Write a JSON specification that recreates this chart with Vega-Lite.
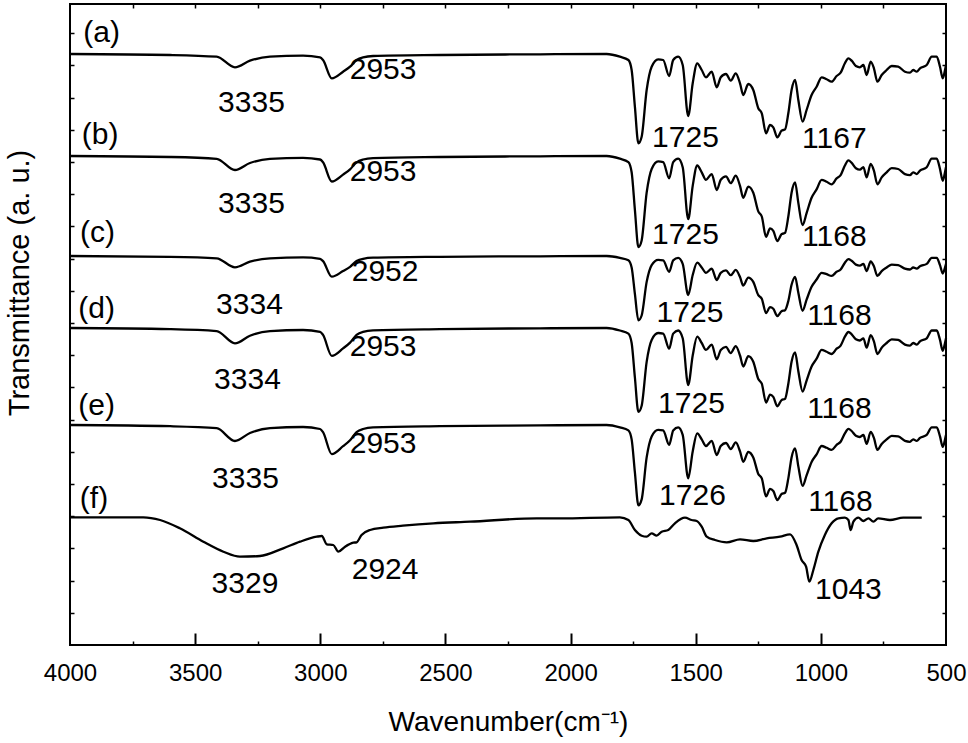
{
"$schema":"https://vega.github.io/schema/vega-lite/v6.json",
"width":876,"height":641,
"autosize":{"type":"none"},
"padding":{"left":70,"top":4,"right":22,"bottom":98},
"background":"white",
"config":{"view":{"stroke":"black","strokeWidth":2},"font":"Liberation Sans"},
"datasets":{
"spectra":[
{"s":"a","w":4000,"t":591},{"s":"a","w":3600,"t":590},{"s":"a","w":3414,"t":588.3},{"s":"a","w":3341,"t":577.7},{"s":"a","w":3281,"t":584.3},{"s":"a","w":3201,"t":588.3},{"s":"a","w":3069,"t":589.3},{"s":"a","w":3001,"t":587.7},{"s":"a","w":2989,"t":585},{"s":"a","w":2954,"t":566.7},{"s":"a","w":2909,"t":573.3},{"s":"a","w":2881,"t":578.3},{"s":"a","w":2855,"t":585},{"s":"a","w":2829,"t":587.7},{"s":"a","w":2789,"t":589},{"s":"a","w":2522,"t":590},{"s":"a","w":2122,"t":590.7},{"s":"a","w":1856,"t":591},{"s":"a","w":1803,"t":588.3},{"s":"a","w":1769,"t":585},{"s":"a","w":1756,"t":575},{"s":"a","w":1743,"t":538.3},{"s":"a","w":1729,"t":501.7},{"s":"a","w":1716,"t":508.3},{"s":"a","w":1696,"t":555},{"s":"a","w":1676,"t":578.3},{"s":"a","w":1650,"t":585.7},{"s":"a","w":1630,"t":585},{"s":"a","w":1606,"t":569},{"s":"a","w":1590,"t":585},{"s":"a","w":1570,"t":588.3},{"s":"a","w":1552,"t":580},{"s":"a","w":1530,"t":529},{"s":"a","w":1512,"t":561.7},{"s":"a","w":1494,"t":581.7},{"s":"a","w":1476,"t":575},{"s":"a","w":1459,"t":567.7},{"s":"a","w":1436,"t":573.3},{"s":"a","w":1416,"t":557.7},{"s":"a","w":1400,"t":567.7},{"s":"a","w":1379,"t":571},{"s":"a","w":1360,"t":564.3},{"s":"a","w":1340,"t":571.7},{"s":"a","w":1323,"t":561.7},{"s":"a","w":1310,"t":550},{"s":"a","w":1290,"t":561},{"s":"a","w":1270,"t":555},{"s":"a","w":1250,"t":536.7},{"s":"a","w":1236,"t":531.7},{"s":"a","w":1219,"t":511.7},{"s":"a","w":1203,"t":520},{"s":"a","w":1190,"t":517.7},{"s":"a","w":1174,"t":507.7},{"s":"a","w":1157,"t":514.3},{"s":"a","w":1143,"t":515.7},{"s":"a","w":1130,"t":531.7},{"s":"a","w":1117,"t":555},{"s":"a","w":1103,"t":565},{"s":"a","w":1090,"t":545},{"s":"a","w":1073,"t":523.3},{"s":"a","w":1057,"t":535},{"s":"a","w":1037,"t":550},{"s":"a","w":1017,"t":558.3},{"s":"a","w":997,"t":567.7},{"s":"a","w":977,"t":565.7},{"s":"a","w":957,"t":563.3},{"s":"a","w":937,"t":569},{"s":"a","w":921,"t":572.3},{"s":"a","w":904,"t":581.7},{"s":"a","w":890,"t":586.7},{"s":"a","w":877,"t":584.3},{"s":"a","w":860,"t":579},{"s":"a","w":844,"t":577.7},{"s":"a","w":830,"t":580},{"s":"a","w":817,"t":570},{"s":"a","w":801,"t":583.3},{"s":"a","w":788,"t":576.7},{"s":"a","w":774,"t":563.3},{"s":"a","w":757,"t":570},{"s":"a","w":737,"t":575},{"s":"a","w":717,"t":579},{"s":"a","w":691,"t":578.3},{"s":"a","w":664,"t":573.3},{"s":"a","w":644,"t":572.3},{"s":"a","w":631,"t":575},{"s":"a","w":617,"t":573.3},{"s":"a","w":604,"t":576.7},{"s":"a","w":577,"t":580},{"s":"a","w":557,"t":588.3},{"s":"a","w":537,"t":588.3},{"s":"a","w":524,"t":578.3},{"s":"a","w":513,"t":566.7},{"s":"a","w":504,"t":575},{"s":"a","w":500,"t":580},
{"s":"b","w":4000,"t":489},{"s":"b","w":3600,"t":488},{"s":"b","w":3414,"t":486.2},{"s":"b","w":3341,"t":475},{"s":"b","w":3281,"t":482},{"s":"b","w":3201,"t":486.2},{"s":"b","w":3069,"t":487.2},{"s":"b","w":3001,"t":485.5},{"s":"b","w":2989,"t":482.7},{"s":"b","w":2954,"t":463.5},{"s":"b","w":2909,"t":470.4},{"s":"b","w":2881,"t":475.7},{"s":"b","w":2855,"t":482.7},{"s":"b","w":2829,"t":485.5},{"s":"b","w":2789,"t":486.9},{"s":"b","w":2522,"t":488},{"s":"b","w":2122,"t":488.7},{"s":"b","w":1856,"t":489},{"s":"b","w":1803,"t":486.3},{"s":"b","w":1769,"t":482.9},{"s":"b","w":1756,"t":472.7},{"s":"b","w":1743,"t":435.2},{"s":"b","w":1729,"t":397.9},{"s":"b","w":1716,"t":404.6},{"s":"b","w":1696,"t":452.3},{"s":"b","w":1676,"t":476},{"s":"b","w":1650,"t":483.6},{"s":"b","w":1630,"t":482.9},{"s":"b","w":1606,"t":466.6},{"s":"b","w":1590,"t":482.9},{"s":"b","w":1570,"t":486.3},{"s":"b","w":1552,"t":477.8},{"s":"b","w":1530,"t":425.8},{"s":"b","w":1512,"t":459.1},{"s":"b","w":1494,"t":479.5},{"s":"b","w":1476,"t":472.7},{"s":"b","w":1459,"t":465.2},{"s":"b","w":1436,"t":470.9},{"s":"b","w":1416,"t":455},{"s":"b","w":1400,"t":465.2},{"s":"b","w":1379,"t":468.6},{"s":"b","w":1360,"t":461.8},{"s":"b","w":1340,"t":469.3},{"s":"b","w":1323,"t":459.1},{"s":"b","w":1310,"t":447.2},{"s":"b","w":1290,"t":458.4},{"s":"b","w":1270,"t":452.3},{"s":"b","w":1250,"t":433.6},{"s":"b","w":1236,"t":428.5},{"s":"b","w":1219,"t":408.1},{"s":"b","w":1203,"t":416.6},{"s":"b","w":1190,"t":414.2},{"s":"b","w":1174,"t":404},{"s":"b","w":1157,"t":410.8},{"s":"b","w":1143,"t":412.2},{"s":"b","w":1130,"t":428.5},{"s":"b","w":1117,"t":452.3},{"s":"b","w":1103,"t":462.5},{"s":"b","w":1090,"t":442.1},{"s":"b","w":1073,"t":419.9},{"s":"b","w":1057,"t":431.9},{"s":"b","w":1037,"t":447.2},{"s":"b","w":1017,"t":455.6},{"s":"b","w":997,"t":465.2},{"s":"b","w":977,"t":463.2},{"s":"b","w":957,"t":460.7},{"s":"b","w":937,"t":466.6},{"s":"b","w":921,"t":469.9},{"s":"b","w":904,"t":479.5},{"s":"b","w":890,"t":484.6},{"s":"b","w":877,"t":482.2},{"s":"b","w":860,"t":476.8},{"s":"b","w":844,"t":475.4},{"s":"b","w":830,"t":477.8},{"s":"b","w":817,"t":467.6},{"s":"b","w":801,"t":481.1},{"s":"b","w":788,"t":474.4},{"s":"b","w":774,"t":460.7},{"s":"b","w":757,"t":467.6},{"s":"b","w":737,"t":472.7},{"s":"b","w":717,"t":476.8},{"s":"b","w":691,"t":476},{"s":"b","w":664,"t":470.9},{"s":"b","w":644,"t":469.9},{"s":"b","w":631,"t":472.7},{"s":"b","w":617,"t":470.9},{"s":"b","w":604,"t":474.4},{"s":"b","w":577,"t":477.8},{"s":"b","w":557,"t":486.3},{"s":"b","w":537,"t":486.3},{"s":"b","w":524,"t":476},{"s":"b","w":513,"t":464.2},{"s":"b","w":504,"t":472.7},{"s":"b","w":500,"t":477.8},
{"s":"c","w":4000,"t":389},{"s":"c","w":3600,"t":388.2},{"s":"c","w":3414,"t":386.7},{"s":"c","w":3341,"t":377.7},{"s":"c","w":3281,"t":383.3},{"s":"c","w":3201,"t":386.7},{"s":"c","w":3069,"t":387.6},{"s":"c","w":3001,"t":386.2},{"s":"c","w":2989,"t":383.9},{"s":"c","w":2954,"t":368.3},{"s":"c","w":2909,"t":374},{"s":"c","w":2881,"t":378.2},{"s":"c","w":2855,"t":383.9},{"s":"c","w":2829,"t":386.2},{"s":"c","w":2789,"t":387.3},{"s":"c","w":2522,"t":388.2},{"s":"c","w":2122,"t":388.7},{"s":"c","w":1856,"t":389},{"s":"c","w":1803,"t":387.1},{"s":"c","w":1769,"t":384.7},{"s":"c","w":1756,"t":377.5},{"s":"c","w":1743,"t":351.1},{"s":"c","w":1729,"t":324.7},{"s":"c","w":1716,"t":329.5},{"s":"c","w":1696,"t":363.1},{"s":"c","w":1676,"t":379.9},{"s":"c","w":1650,"t":385.2},{"s":"c","w":1630,"t":384.7},{"s":"c","w":1606,"t":373.2},{"s":"c","w":1590,"t":384.7},{"s":"c","w":1570,"t":387.1},{"s":"c","w":1552,"t":381.1},{"s":"c","w":1530,"t":350},{"s":"c","w":1512,"t":370},{"s":"c","w":1494,"t":382.3},{"s":"c","w":1476,"t":377.5},{"s":"c","w":1459,"t":372.2},{"s":"c","w":1436,"t":376.3},{"s":"c","w":1416,"t":365},{"s":"c","w":1400,"t":372.2},{"s":"c","w":1379,"t":374.6},{"s":"c","w":1360,"t":369.8},{"s":"c","w":1340,"t":375.1},{"s":"c","w":1323,"t":367.9},{"s":"c","w":1310,"t":359.5},{"s":"c","w":1290,"t":367.4},{"s":"c","w":1270,"t":363.1},{"s":"c","w":1250,"t":349.9},{"s":"c","w":1236,"t":346.3},{"s":"c","w":1219,"t":331.9},{"s":"c","w":1203,"t":337.9},{"s":"c","w":1190,"t":336.2},{"s":"c","w":1174,"t":329},{"s":"c","w":1157,"t":333.8},{"s":"c","w":1143,"t":334.8},{"s":"c","w":1130,"t":344},{"s":"c","w":1117,"t":360.2},{"s":"c","w":1103,"t":368.2},{"s":"c","w":1090,"t":352.2},{"s":"c","w":1073,"t":334.2},{"s":"c","w":1057,"t":345.3},{"s":"c","w":1037,"t":358.2},{"s":"c","w":1017,"t":365.5},{"s":"c","w":997,"t":372.2},{"s":"c","w":977,"t":370.8},{"s":"c","w":957,"t":369.1},{"s":"c","w":937,"t":373.2},{"s":"c","w":921,"t":375.5},{"s":"c","w":904,"t":382.3},{"s":"c","w":890,"t":385.9},{"s":"c","w":877,"t":384.2},{"s":"c","w":860,"t":380.4},{"s":"c","w":844,"t":379.4},{"s":"c","w":830,"t":381.1},{"s":"c","w":817,"t":373.9},{"s":"c","w":801,"t":383.5},{"s":"c","w":788,"t":378.7},{"s":"c","w":774,"t":369.1},{"s":"c","w":757,"t":373.9},{"s":"c","w":737,"t":377.5},{"s":"c","w":717,"t":380.4},{"s":"c","w":691,"t":379.9},{"s":"c","w":664,"t":376.3},{"s":"c","w":644,"t":375.5},{"s":"c","w":631,"t":377.5},{"s":"c","w":617,"t":376.3},{"s":"c","w":604,"t":378.7},{"s":"c","w":577,"t":381.1},{"s":"c","w":557,"t":387.1},{"s":"c","w":537,"t":387.1},{"s":"c","w":524,"t":379.9},{"s":"c","w":513,"t":371.5},{"s":"c","w":504,"t":377.5},{"s":"c","w":500,"t":381.1},
{"s":"d","w":4000,"t":317},{"s":"d","w":3600,"t":315.9},{"s":"d","w":3414,"t":313.9},{"s":"d","w":3341,"t":301.7},{"s":"d","w":3281,"t":309.3},{"s":"d","w":3201,"t":313.9},{"s":"d","w":3069,"t":315},{"s":"d","w":3001,"t":313.2},{"s":"d","w":2989,"t":310.1},{"s":"d","w":2954,"t":289.1},{"s":"d","w":2909,"t":296.6},{"s":"d","w":2881,"t":302.4},{"s":"d","w":2855,"t":310.1},{"s":"d","w":2829,"t":313.2},{"s":"d","w":2789,"t":314.7},{"s":"d","w":2522,"t":315.9},{"s":"d","w":2122,"t":316.7},{"s":"d","w":1856,"t":317},{"s":"d","w":1803,"t":314.5},{"s":"d","w":1769,"t":311.4},{"s":"d","w":1756,"t":302},{"s":"d","w":1743,"t":267.5},{"s":"d","w":1729,"t":233.1},{"s":"d","w":1716,"t":239.3},{"s":"d","w":1696,"t":283.2},{"s":"d","w":1676,"t":305.1},{"s":"d","w":1650,"t":312},{"s":"d","w":1630,"t":311.4},{"s":"d","w":1606,"t":296.3},{"s":"d","w":1590,"t":311.4},{"s":"d","w":1570,"t":314.5},{"s":"d","w":1552,"t":306.7},{"s":"d","w":1530,"t":260},{"s":"d","w":1512,"t":289.5},{"s":"d","w":1494,"t":308.3},{"s":"d","w":1476,"t":302},{"s":"d","w":1459,"t":295.1},{"s":"d","w":1436,"t":300.4},{"s":"d","w":1416,"t":285.7},{"s":"d","w":1400,"t":295.1},{"s":"d","w":1379,"t":298.2},{"s":"d","w":1360,"t":291.9},{"s":"d","w":1340,"t":298.9},{"s":"d","w":1323,"t":289.5},{"s":"d","w":1310,"t":278.5},{"s":"d","w":1290,"t":288.8},{"s":"d","w":1270,"t":283.2},{"s":"d","w":1250,"t":266},{"s":"d","w":1236,"t":261.3},{"s":"d","w":1219,"t":242.5},{"s":"d","w":1203,"t":250.3},{"s":"d","w":1190,"t":248.1},{"s":"d","w":1174,"t":238.7},{"s":"d","w":1157,"t":244.9},{"s":"d","w":1143,"t":246.2},{"s":"d","w":1130,"t":261.3},{"s":"d","w":1117,"t":283.2},{"s":"d","w":1103,"t":292.6},{"s":"d","w":1090,"t":273.8},{"s":"d","w":1073,"t":253.4},{"s":"d","w":1057,"t":264.4},{"s":"d","w":1037,"t":278.5},{"s":"d","w":1017,"t":286.3},{"s":"d","w":997,"t":295.1},{"s":"d","w":977,"t":293.2},{"s":"d","w":957,"t":291},{"s":"d","w":937,"t":296.3},{"s":"d","w":921,"t":299.4},{"s":"d","w":904,"t":308.3},{"s":"d","w":890,"t":313},{"s":"d","w":877,"t":310.7},{"s":"d","w":860,"t":305.7},{"s":"d","w":844,"t":304.5},{"s":"d","w":830,"t":306.7},{"s":"d","w":817,"t":297.3},{"s":"d","w":801,"t":309.8},{"s":"d","w":788,"t":303.6},{"s":"d","w":774,"t":291},{"s":"d","w":757,"t":297.3},{"s":"d","w":737,"t":302},{"s":"d","w":717,"t":305.7},{"s":"d","w":691,"t":305.1},{"s":"d","w":664,"t":300.4},{"s":"d","w":644,"t":299.4},{"s":"d","w":631,"t":302},{"s":"d","w":617,"t":300.4},{"s":"d","w":604,"t":303.6},{"s":"d","w":577,"t":306.7},{"s":"d","w":557,"t":314.5},{"s":"d","w":537,"t":314.5},{"s":"d","w":524,"t":305.1},{"s":"d","w":513,"t":294.2},{"s":"d","w":504,"t":302},{"s":"d","w":500,"t":306.7},
{"s":"e","w":4000,"t":220},{"s":"e","w":3600,"t":218.8},{"s":"e","w":3414,"t":216.8},{"s":"e","w":3341,"t":204},{"s":"e","w":3281,"t":212},{"s":"e","w":3201,"t":216.8},{"s":"e","w":3069,"t":218},{"s":"e","w":3001,"t":216},{"s":"e","w":2989,"t":212.8},{"s":"e","w":2954,"t":190.8},{"s":"e","w":2909,"t":198.8},{"s":"e","w":2881,"t":204.8},{"s":"e","w":2855,"t":212.8},{"s":"e","w":2829,"t":216},{"s":"e","w":2789,"t":217.6},{"s":"e","w":2522,"t":218.8},{"s":"e","w":2122,"t":219.6},{"s":"e","w":1856,"t":220},{"s":"e","w":1803,"t":217.6},{"s":"e","w":1769,"t":214.6},{"s":"e","w":1756,"t":205.6},{"s":"e","w":1743,"t":172.6},{"s":"e","w":1729,"t":139.6},{"s":"e","w":1716,"t":145.6},{"s":"e","w":1696,"t":187.6},{"s":"e","w":1676,"t":208.6},{"s":"e","w":1650,"t":215.2},{"s":"e","w":1630,"t":214.6},{"s":"e","w":1606,"t":200.2},{"s":"e","w":1590,"t":214.6},{"s":"e","w":1570,"t":217.6},{"s":"e","w":1552,"t":210.1},{"s":"e","w":1530,"t":166.7},{"s":"e","w":1512,"t":193.6},{"s":"e","w":1494,"t":211.6},{"s":"e","w":1476,"t":205.6},{"s":"e","w":1459,"t":199},{"s":"e","w":1436,"t":204.1},{"s":"e","w":1416,"t":190},{"s":"e","w":1400,"t":199},{"s":"e","w":1379,"t":202},{"s":"e","w":1360,"t":196},{"s":"e","w":1340,"t":202.6},{"s":"e","w":1323,"t":193.6},{"s":"e","w":1310,"t":183.1},{"s":"e","w":1290,"t":193},{"s":"e","w":1270,"t":187.6},{"s":"e","w":1250,"t":171.1},{"s":"e","w":1236,"t":166.6},{"s":"e","w":1219,"t":148.6},{"s":"e","w":1203,"t":156.1},{"s":"e","w":1190,"t":154},{"s":"e","w":1174,"t":145},{"s":"e","w":1157,"t":151},{"s":"e","w":1143,"t":152.2},{"s":"e","w":1130,"t":166.6},{"s":"e","w":1117,"t":187.6},{"s":"e","w":1103,"t":196.6},{"s":"e","w":1090,"t":178.6},{"s":"e","w":1073,"t":159.1},{"s":"e","w":1057,"t":169.6},{"s":"e","w":1037,"t":183.1},{"s":"e","w":1017,"t":190.6},{"s":"e","w":997,"t":199},{"s":"e","w":977,"t":197.2},{"s":"e","w":957,"t":195.1},{"s":"e","w":937,"t":200.2},{"s":"e","w":921,"t":203.2},{"s":"e","w":904,"t":211.6},{"s":"e","w":890,"t":216.1},{"s":"e","w":877,"t":214},{"s":"e","w":860,"t":209.2},{"s":"e","w":844,"t":208},{"s":"e","w":830,"t":210.1},{"s":"e","w":817,"t":201.1},{"s":"e","w":801,"t":213.1},{"s":"e","w":788,"t":207.1},{"s":"e","w":774,"t":195.1},{"s":"e","w":757,"t":201.1},{"s":"e","w":737,"t":205.6},{"s":"e","w":717,"t":209.2},{"s":"e","w":691,"t":208.6},{"s":"e","w":664,"t":204.1},{"s":"e","w":644,"t":203.2},{"s":"e","w":631,"t":205.6},{"s":"e","w":617,"t":204.1},{"s":"e","w":604,"t":207.1},{"s":"e","w":577,"t":210.1},{"s":"e","w":557,"t":217.6},{"s":"e","w":537,"t":217.6},{"s":"e","w":524,"t":208.6},{"s":"e","w":513,"t":198.1},{"s":"e","w":504,"t":205.6},{"s":"e","w":500,"t":210.1},
{"s":"f","w":4000,"t":127.7},{"s":"f","w":3707,"t":127.7},{"s":"f","w":3640,"t":125},{"s":"f","w":3561,"t":116.7},{"s":"f","w":3467,"t":103.3},{"s":"f","w":3387,"t":93.3},{"s":"f","w":3321,"t":88.3},{"s":"f","w":3241,"t":89},{"s":"f","w":3148,"t":96.7},{"s":"f","w":3081,"t":103.3},{"s":"f","w":3014,"t":108.3},{"s":"f","w":2994,"t":109},{"s":"f","w":2974,"t":100.7},{"s":"f","w":2948,"t":100},{"s":"f","w":2928,"t":93.3},{"s":"f","w":2901,"t":98.3},{"s":"f","w":2868,"t":102.3},{"s":"f","w":2855,"t":102.7},{"s":"f","w":2835,"t":110},{"s":"f","w":2801,"t":115},{"s":"f","w":2748,"t":117.3},{"s":"f","w":2670,"t":119.3},{"s":"f","w":2548,"t":121.7},{"s":"f","w":2402,"t":123.3},{"s":"f","w":2135,"t":126.7},{"s":"f","w":2042,"t":126.7},{"s":"f","w":1803,"t":127.7},{"s":"f","w":1769,"t":125},{"s":"f","w":1743,"t":115},{"s":"f","w":1716,"t":109.3},{"s":"f","w":1696,"t":108.3},{"s":"f","w":1676,"t":111.7},{"s":"f","w":1656,"t":109.3},{"s":"f","w":1636,"t":113.3},{"s":"f","w":1610,"t":115},{"s":"f","w":1583,"t":121.7},{"s":"f","w":1543,"t":127.3},{"s":"f","w":1516,"t":125},{"s":"f","w":1496,"t":124},{"s":"f","w":1476,"t":118.3},{"s":"f","w":1456,"t":108.3},{"s":"f","w":1423,"t":105},{"s":"f","w":1376,"t":102.7},{"s":"f","w":1323,"t":105.7},{"s":"f","w":1270,"t":104},{"s":"f","w":1216,"t":106.7},{"s":"f","w":1163,"t":108.3},{"s":"f","w":1123,"t":110.7},{"s":"f","w":1097,"t":100},{"s":"f","w":1077,"t":85},{"s":"f","w":1059,"t":78.3},{"s":"f","w":1046,"t":63.3},{"s":"f","w":1030,"t":75},{"s":"f","w":1010,"t":93.3},{"s":"f","w":984,"t":110},{"s":"f","w":957,"t":121.7},{"s":"f","w":930,"t":126.7},{"s":"f","w":904,"t":127.3},{"s":"f","w":890,"t":125},{"s":"f","w":881,"t":115},{"s":"f","w":870,"t":123.3},{"s":"f","w":850,"t":127.3},{"s":"f","w":830,"t":124},{"s":"f","w":810,"t":126.7},{"s":"f","w":790,"t":123.3},{"s":"f","w":771,"t":126.7},{"s":"f","w":724,"t":125},{"s":"f","w":671,"t":127.3},{"s":"f","w":631,"t":127.3},{"s":"f","w":597,"t":127.3}
],
"labels":[
{"label":"(a)","w":3874,"t":611.7},{"label":"(b)","w":3880,"t":510.2},{"label":"(c)","w":3890,"t":411.7},{"label":"(d)","w":3894,"t":335.7},{"label":"(e)","w":3894,"t":238.7},{"label":"(f)","w":3904,"t":146.2},
{"label":"3335","w":3275,"t":542.3},{"label":"3335","w":3275,"t":440.8},{"label":"3334","w":3283,"t":340.3},{"label":"3334","w":3291,"t":265.3},{"label":"3335","w":3299,"t":165.8},{"label":"3329","w":3301,"t":60.8},
{"label":"2953","w":2749,"t":575.3},{"label":"2953","w":2749,"t":473.3},{"label":"2952","w":2741,"t":373.3},{"label":"2953","w":2749,"t":298.3},{"label":"2953","w":2749,"t":201.3},{"label":"2924","w":2741,"t":74.8},
{"label":"1725","w":1541,"t":507.3},{"label":"1725","w":1541,"t":409.8},{"label":"1725","w":1523,"t":332.3},{"label":"1725","w":1517,"t":240.8},{"label":"1726","w":1513,"t":149.3},
{"label":"1167","w":946,"t":505.8},{"label":"1168","w":946,"t":408.3},{"label":"1168","w":926,"t":329.3},{"label":"1168","w":926,"t":235.8},{"label":"1168","w":922,"t":143.3},{"label":"1043","w":890,"t":55.3}
]
},
"layer":[
{
"data":{"name":"spectra"},
"mark":{"type":"line","color":"black","strokeWidth":2.3,"interpolate":"monotone"},
"encoding":{
"x":{"field":"w","type":"quantitative","scale":{"domain":[4000,500],"nice":false,"zero":false},
"axis":{"orient":"bottom","values":[4000,3500,3000,2500,2000,1500,1000,500],"format":"d","ticks":false,"domain":false,"grid":false,"labelFontSize":24,"labelFont":"Liberation Sans","labelColor":"black","labelPadding":16.5,"labelFlush":false,"labelOverlap":false,"labelBound":false,"title":"Wavenumber(cm⁻¹)","titleFont":"Liberation Sans","titleFontSize":28,"titleFontWeight":"normal","titleColor":"black","titlePadding":23}},
"y":{"field":"t","type":"quantitative","scale":{"domain":[0,641],"nice":false,"zero":false},
"axis":{"orient":"left","values":[32.2,64.4,96.6,128.8,161,193.2,225.4,257.6,289.8,322,354.2,386.4,418.6,450.8,483,515.2,547.4,579.6,611.8],"labels":false,"domain":false,"grid":false,"tickSize":-4,"tickWidth":1.5,"tickColor":"black","title":"Transmittance (a. u.)","titleFont":"Liberation Sans","titleFontSize":29,"titleFontWeight":"normal","titleColor":"black","titleAngle":-90,"titleAlign":"center","titleBaseline":"alphabetic","titleX":-42,"titleY":278.5}},
"detail":{"field":"s","type":"nominal"}
}
},
{
"data":{"name":"labels"},
"mark":{"type":"text","font":"Liberation Sans","fontSize":30,"color":"black","align":"center","baseline":"middle"},
"encoding":{
"x":{"field":"w","type":"quantitative","axis":{"orient":"bottom","values":[3500,3000,2500,2000,1500,1000],"labels":false,"domain":false,"grid":false,"tickSize":-12,"tickWidth":2,"tickColor":"black","title":null}},
"y":{"field":"t","type":"quantitative","axis":{"orient":"right","values":[32.2,64.4,96.6,128.8,161,193.2,225.4,257.6,289.8,322,354.2,386.4,418.6,450.8,483,515.2,547.4,579.6,611.8],"labels":false,"domain":false,"grid":false,"tickSize":-4,"tickWidth":1.5,"tickColor":"black","title":null}},
"text":{"field":"label","type":"nominal"}
}
},
{
"data":{"name":"labels"},
"mark":{"type":"point","opacity":0},
"encoding":{
"x":{"field":"w","type":"quantitative","axis":{"orient":"top","values":[3750,3500,3250,3000,2750,2500,2250,2000,1750,1500,1250,1000,750],"labels":false,"domain":false,"grid":false,"tickSize":-4,"tickWidth":1.5,"tickColor":"black","title":null}},
"y":{"field":"t","type":"quantitative","axis":null}
}
},
{
"data":{"name":"labels"},
"mark":{"type":"point","opacity":0},
"encoding":{
"x":{"field":"w","type":"quantitative","axis":{"orient":"bottom","values":[3750,3250,2750,2250,1750,1250,750],"labels":false,"domain":false,"grid":false,"tickSize":-4,"tickWidth":1.5,"tickColor":"black","title":null}},
"y":{"field":"t","type":"quantitative","axis":null}
}
}
],
"resolve":{"axis":{"x":"independent","y":"independent"}}
}
